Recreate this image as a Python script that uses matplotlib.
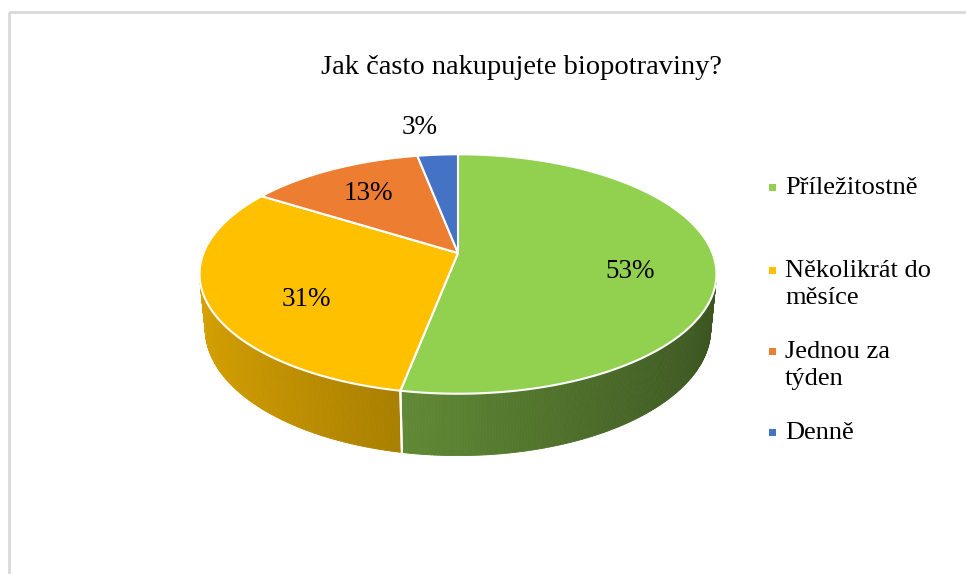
# -*- coding: utf-8 -*-
"""3D pie: Jak často nakupujete biopotraviny?"""
import numpy as np
import matplotlib
matplotlib.use('Agg')
import matplotlib.pyplot as plt
from matplotlib.patches import Polygon, Rectangle
from matplotlib.collections import PolyCollection
from matplotlib.colors import to_rgb

TITLE = 'Jak často nakupujete biopotraviny?'
LABELS = ['Příležitostně', 'Několikrát do\nměsíce', 'Jednou za\ntýden', 'Denně']
VALUES = [53, 31, 13, 3]
COLORS = ['#92D050', '#FFC000', '#ED7D31', '#4472C4']

# layout (pixels, figure 966x574)
W, H = 966, 574
CX, CY = 458, 253          # pie centre on screen
FOCAL, DIST = 1290, 5.07   # perspective camera
ELEV = np.arcsin(0.456)    # tilt of the pie
THICK = 0.245              # pie height (unit radius)
LABEL_POS = [(630, 272), (306, 300), (368, 193), (420, 128)]
LEGEND_Y = [188, 271, 352, 433]
FONT = ['Liberation Serif', 'DejaVu Serif']


def project(u, v, z=0.0):
    s, c = np.sin(ELEV), np.cos(ELEV)
    yc = z * c + v * s
    depth = DIST + v * c - z * s
    return CX + FOCAL * u / depth, CY - FOCAL * yc / depth


def arc(a0, a1, n, z=0.0):
    phi = np.linspace(a0, a1, n)
    x, y = project(np.sin(phi), np.cos(phi), z)
    return np.column_stack([x, y])


fig = plt.figure(figsize=(W / 100, H / 100), dpi=100)
ax = fig.add_axes([0, 0, 1, 1])
ax.set_xlim(0, W)
ax.set_ylim(H, 0)
ax.axis('off')

# chart border
ax.add_patch(Rectangle((9, 12), W + 20, H + 20, fill=False,
                       edgecolor='#d9d9d9', linewidth=2))

fracs = np.array(VALUES) / np.sum(VALUES)
bounds = np.concatenate([[0], np.cumsum(fracs)]) * 2 * np.pi

# side walls (front half only), shaded darker to the right
for i, col in enumerate(COLORS):
    a0 = max(bounds[i], np.pi / 2)
    a1 = min(bounds[i + 1], 3 * np.pi / 2)
    if a1 <= a0:
        continue
    n = max(int((a1 - a0) / 0.01), 2)
    phi = np.linspace(a0, a1, n + 1)
    top = arc(a0, a1, n + 1, 0.0)
    bot = arc(a0, a1, n + 1, -THICK)
    polys, fcs = [], []
    base = np.array(to_rgb(col))
    for k in range(n):
        polys.append([top[k], top[k + 1], bot[k + 1], bot[k]])
        um = np.sin(0.5 * (phi[k] + phi[k + 1]))
        f = 0.62 - 0.22 * um
        fcs.append(np.clip(base * f, 0, 1))
    ax.add_collection(PolyCollection(polys, facecolors=fcs, edgecolors=fcs,
                                     linewidths=0.6))
    # white seam at the slice boundary
    for a in (bounds[i], bounds[i + 1]):
        if np.pi / 2 < a < 3 * np.pi / 2:
            p0 = project(np.sin(a), np.cos(a), 0.0)
            p1 = project(np.sin(a), np.cos(a), -THICK)
            ax.plot([p0[0], p1[0]], [p0[1], p1[1]], color='white', lw=1.5)

# top faces
for i, col in enumerate(COLORS):
    pts = arc(bounds[i], bounds[i + 1], 200)
    pts = np.vstack([[CX, CY], pts])
    ax.add_patch(Polygon(pts, closed=True, facecolor=col,
                         edgecolor='white', linewidth=1.5, joinstyle='round'))

# data labels
for (x, y), v in zip(LABEL_POS, VALUES):
    ax.text(x, y, f'{v}%', ha='center', va='center', fontsize=19.5,
            family=FONT, color='#000000')

ax.text(521, 67, TITLE, ha='center', va='center', fontsize=20.5,
        family=FONT, color='#000000')

# legend
for y, lab, col in zip(LEGEND_Y, LABELS, COLORS):
    ax.add_patch(Rectangle((769, y - 4), 7, 7, facecolor=col, edgecolor='none'))
    for j, line in enumerate(lab.split('\n')):
        ax.text(785, y + j * 27, line, ha='left', va='center', fontsize=19,
                family=FONT, color='#000000')

fig.savefig('out.png', dpi=100)
